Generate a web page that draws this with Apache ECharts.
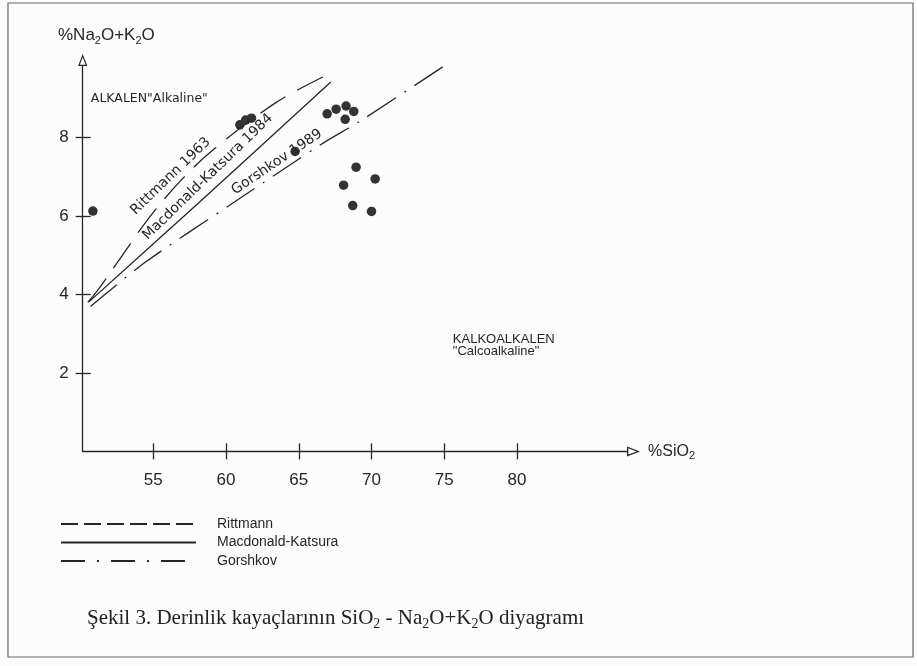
<!DOCTYPE html>
<html><head><meta charset="utf-8">
<script src="https://cdn.jsdelivr.net/npm/echarts@6/dist/echarts.min.js"></script>
<style>html,body{margin:0;padding:0;background:#fcfcfc}#c{width:917px;height:666px}</style>
</head><body><div id="c"></div>
<script>
// ---- data ----
const xTicks = [55, 60, 65, 70, 75, 80];
const yTicks = [2, 4, 6, 8];
const legendNames = ['Rittmann', 'Macdonald-Katsura', 'Gorshkov'];
const rittmann = [[50.5,3.8],[51.2,4.12],[52.5,4.8],[54.8,6.0],[57.0,6.95],[59.1,7.69],[63.4,8.89],[66.65,9.55]];
const macdonald = [[50.6,3.82],[58.3,6.4],[67.2,9.42]];
const gorshkov = [[50.7,3.7],[54.4,4.81],[60.5,6.34],[66.7,7.87],[69.2,8.42],[75.1,9.86]];
const samples = [[50.85,6.13],[60.95,8.33],[61.35,8.45],[61.75,8.5],[64.75,7.65],[66.95,8.61],[67.57,8.73],[68.25,8.81],[68.78,8.67],[68.19,8.47],[68.94,7.25],[70.25,6.95],[68.08,6.79],[68.71,6.27],[70.0,6.12]];
const lineLabels = [
  ['Rittmann 1963', 56.2, 7.02, 44],
  ['Macdonald-Katsura 1984', 58.75, 7.0, 44],
  ['Gorshkov 1989', 63.5, 7.38, 34]
];
const fieldLabels = [
  ['ALKALEN"Alkaline"', 50.71, 9.0],
  ['KALKOALKALEN\n"Calcoalkaline"', 75.59, 2.71]
];

const ink = '#262626';
const font = 'Liberation Sans';
const wide = 'DejaVu Sans';
const arrow = 'path://M5 0L10 13L0 13Z M5 3.4L1.9 11.7L8.1 11.7Z';
const xMin = 50.15, xMax = 87.56, yMin = 0, yMax = 9.83;

const chart = echarts.init(document.getElementById('c'), null, {renderer: 'canvas'});
const common = {type: 'value', splitLine: {show: false}};
chart.setOption({
  animation: false,
  backgroundColor: '#fcfcfc',
  color: [ink, ink, ink, '#333'],
  title: [
    {
      text: '{n|%Na}{s|2}{n|O+K}{s|2}{n|O}', left: 58, top: 24, padding: 0,
      textStyle: {fontWeight: 'normal', rich: {
        n: {fontFamily: font, fontSize: 17, fontWeight: 'normal', color: ink, lineHeight: 22},
        s: {fontFamily: font, fontSize: 11, fontWeight: 'normal', color: ink, lineHeight: 14, verticalAlign: 'bottom'}
      }}
    },
    {
      text: '{n|Şekil 3. Derinlik kayaçlarının SiO}{s|2}{n| - Na}{s|2}{n|O+K}{s|2}{n|O diyagramı}',
      left: 87, top: 606, padding: 0,
      textStyle: {fontWeight: 'normal', rich: {
        n: {fontFamily: 'Liberation Serif', fontSize: 21, fontWeight: 'normal', color: '#222', lineHeight: 25},
        s: {fontFamily: 'Liberation Serif', fontSize: 14, fontWeight: 'normal', color: '#222', lineHeight: 16, verticalAlign: 'bottom'}
      }}
    }
  ],
  graphic: [{
    type: 'rect', shape: {x: 8, y: 3, width: 905, height: 654},
    style: {fill: 'none', stroke: '#666', lineWidth: 1.2}, silent: true
  }],
  legend: {
    data: [
      {name: legendNames[0], lineStyle: {type: [17, 6]}},
      {name: legendNames[1]},
      {name: legendNames[2], lineStyle: {type: [24, 12, 2, 12]}}
    ],
    orient: 'vertical', left: 60, top: 517, padding: 0,
    itemWidth: 135, itemHeight: 14, itemGap: 4.5,
    itemStyle: {opacity: 0},
    textStyle: {fontFamily: font, fontSize: 14, color: ink, padding: [0, 0, 0, 16]},
    selectedMode: false
  },
  grid: {left: 82.7, right: 290, top: 66, bottom: 214.6},
  xAxis: [
    Object.assign({}, common, {
      min: xMin, max: xMax, position: 'bottom',
      axisLine: {show: true, onZero: false, lineStyle: {color: ink, width: 1.3},
        symbol: ['none', arrow], symbolSize: [10, 13], symbolOffset: [0, 6.5]},
      axisTick: {show: true, customValues: xTicks, length: 8, lineStyle: {color: ink, width: 1.3}},
      axisLabel: {customValues: xTicks, margin: 20, fontFamily: font, fontSize: 17, color: ink},
      name: '{n|%SiO}{s|2}', nameLocation: 'end', nameGap: 21,
      nameTextStyle: {align: 'left', verticalAlign: 'middle', rich: {
        n: {fontFamily: font, fontSize: 16, color: ink, lineHeight: 20},
        s: {fontFamily: font, fontSize: 11, color: ink, lineHeight: 13, verticalAlign: 'bottom'}
      }}
    }),
    Object.assign({}, common, {
      min: xMin, max: xMax, position: 'bottom',
      axisLine: {show: false},
      axisTick: {show: true, inside: true, customValues: xTicks, length: 8, lineStyle: {color: ink, width: 1.3}},
      axisLabel: {show: false}
    })
  ],
  yAxis: [
    Object.assign({}, common, {
      min: yMin, max: yMax, position: 'left',
      axisLine: {show: true, onZero: false, lineStyle: {color: ink, width: 1.3},
        symbol: ['none', arrow], symbolSize: [10, 12], symbolOffset: [0, 6]},
      axisTick: {show: true, customValues: yTicks, length: 7, lineStyle: {color: ink, width: 1.3}},
      axisLabel: {customValues: yTicks, margin: 14, fontFamily: font, fontSize: 17, color: ink}
    }),
    Object.assign({}, common, {
      min: yMin, max: yMax, position: 'left',
      axisLine: {show: false},
      axisTick: {show: true, inside: true, customValues: yTicks, length: 8, lineStyle: {color: ink, width: 1.3}},
      axisLabel: {show: false}
    })
  ],
  series: [
    {name: legendNames[0], type: 'line', data: rittmann, smooth: 0.35, symbol: 'none', silent: true,
      itemStyle: {color: ink}, lineStyle: {color: ink, width: 1.3, type: [30, 13]}},
    {name: legendNames[1], type: 'line', data: macdonald, smooth: 0.3, symbol: 'none', silent: true,
      itemStyle: {color: ink}, lineStyle: {color: ink, width: 1.3, type: 'solid'}},
    {name: legendNames[2], type: 'line', data: gorshkov, smooth: 0.3, symbol: 'none', silent: true,
      itemStyle: {color: ink}, lineStyle: {color: ink, width: 1.3, type: [34, 10, 2, 10]}},
    {name: 'samples', type: 'scatter', data: samples, symbolSize: 9.5, silent: true,
      itemStyle: {color: '#333', opacity: 1}},
    {name: 'lineLabels', type: 'scatter', symbolSize: 0.1, silent: true, z: 5,
      itemStyle: {opacity: 1, color: 'transparent'},
      data: lineLabels.map(d => ({name: d[0], value: [d[1], d[2]], label: {rotate: d[3]}})),
      label: {show: true, position: 'inside', formatter: '{b}', fontFamily: wide, fontSize: 14, color: ink, opacity: 1}},
    {name: 'fieldLabels', type: 'scatter', symbolSize: 0.1, silent: true, z: 5,
      itemStyle: {opacity: 1, color: 'transparent'},
      data: fieldLabels.map((d, i) => ({name: d[0], value: [d[1], d[2]],
        label: i === 0 ? {fontFamily: wide, fontSize: 12.5} : {fontFamily: font, fontSize: 13}})),
      label: {show: true, position: 'inside', align: 'left', formatter: '{b}', lineHeight: 12, color: ink, opacity: 1}}
  ]
});
</script></body></html>
